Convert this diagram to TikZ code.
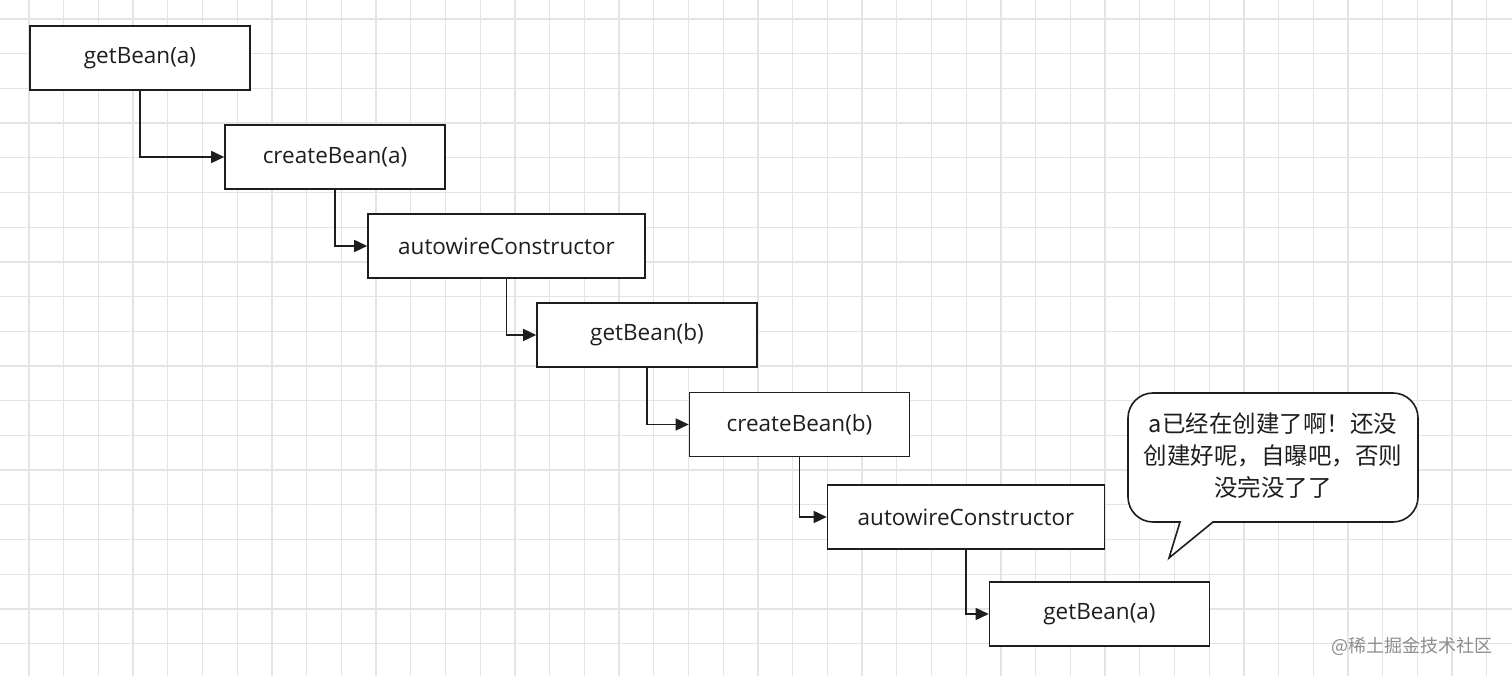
\documentclass[tikz,border=0pt]{standalone}
\usepackage{fontspec}
\setmainfont{Open Sans}
\newfontfamily\cjk{Noto Sans CJK SC}
\usetikzlibrary{arrows.meta}
\definecolor{gridc}{RGB}{228,228,228}
\definecolor{ink}{RGB}{30,30,30}
\tikzset{
  gridline/.style={draw=gridc, line width=1.3pt},
  stepbox/.style={draw=ink, line width=1.6pt, fill=white, inner sep=0pt,
    minimum height=64pt, text=ink, font=\fontsize{22.5}{26}\selectfont},
  narrow/.style={stepbox, minimum width=220pt},
  wide/.style={stepbox, minimum width=277pt},
  link/.style={draw=ink, line width=1.6pt, -{Triangle[length=13pt,width=12pt]}},
}
\begin{document}
\begin{tikzpicture}[x=1pt,y=1pt]
\fill[white] (0,0) rectangle (1512,676);
\useasboundingbox (0,0) rectangle (1512,676);
\foreach \i in {0,...,42} \draw[gridline] ({29+34.71*\i},0) -- ({29+34.71*\i},676);
\foreach \j in {0,...,18} \draw[gridline] (0,{657-34.7*\j}) -- (1512,{657-34.7*\j});

\node[narrow] (n1) at (140,618) {getBean(a)};
\node[narrow] (n2) at (335,519) {createBean(a)};
\node[wide]   (n3) at (506.5,430) {autowireConstructor};
\node[narrow] (n4) at (647,341) {getBean(b)};
\node[narrow] (n5) at (799.5,251.5) {createBean(b)};
\node[wide]   (n6) at (966,159) {autowireConstructor};
\node[narrow] (n7) at (1099.5,62) {getBean(a)};

\draw[link] (n1.south) |- (n2.west);
\draw[link] (n2.south) |- (n3.west);
\draw[link] (n3.south) |- (n4.west);
\draw[link] (n4.south) |- (n5.west);
\draw[link] (n5.south) |- (n6.west);
\draw[link] (n6.south) |- (n7.west);

\draw[draw=ink, line width=1.6pt, fill=white, line join=miter]
  (1180,154) -- (1153,154) arc[start angle=270,end angle=180,radius=25]
  -- (1128,258) arc[start angle=180,end angle=90,radius=25]
  -- (1393,283) arc[start angle=90,end angle=0,radius=25]
  -- (1418,179) arc[start angle=0,end angle=-90,radius=25]
  -- (1213,154) -- (1169,118) -- cycle;
\node[align=center, text=ink, font=\cjk\fontsize{23.5}{32}\selectfont] (bubble) at (1273,220)
  {a已经在创建了啊！还没\\创建好呢，自曝吧，否则\\没完没了了};

\node[text=black!45, font=\cjk\fontsize{18}{20}\selectfont] (wm) at (1412,30) {@稀土掘金技术社区};
\end{tikzpicture}
\end{document}
